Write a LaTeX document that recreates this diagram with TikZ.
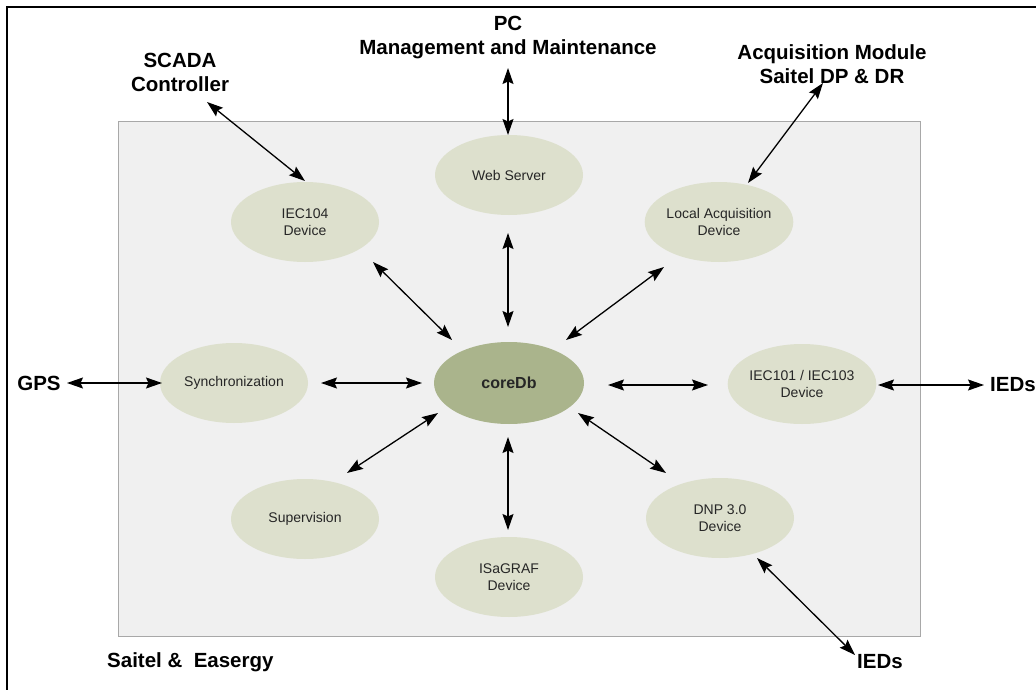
\documentclass[tikz,border=0pt]{standalone}
\usepackage{fontspec}
\setmainfont{Liberation Sans}
\usetikzlibrary{shapes.geometric,arrows.meta}

\definecolor{panelfill}{HTML}{F0F0F0}
\definecolor{panelline}{HTML}{A8A8A8}
\definecolor{modfill}{HTML}{DDE0CD}
\definecolor{corefill}{HTML}{AAB48C}

\tikzset{
  module/.style={ellipse, draw=none, fill=modfill, minimum width=148pt,
    minimum height=80pt, inner sep=0pt, align=center,
    font=\fontsize{14}{17}\selectfont, text=black!85},
  coremod/.style={module, fill=corefill, minimum width=150pt, minimum height=82pt,
    font=\fontsize{16}{19}\selectfont\bfseries},
  extlabel/.style={align=center, inner sep=0pt,
    font=\fontsize{20.5}{24}\selectfont\bfseries},
  tip/.tip={Stealth[length=16pt,width=11pt,inset=2.5pt]},
  link/.style={line width=1.3pt, tip-tip}
}

\begin{document}
\begin{tikzpicture}[x=1pt,y=-1pt]
  \useasboundingbox (0,0) rectangle (1036,690);
  % frame around the figure (open at right and bottom)
  \draw[line width=1.5pt] (7,690) -- (7,7) -- (1036,7);

  % device panel
  \draw[panelline, fill=panelfill, line width=0.8pt] (118,121) rectangle (920,636);

  % modules
  \node[module]  (web)     at (509,175) {Web Server};
  \node[module]  (iec104)  at (305,222) {IEC104\\Device};
  \node[module]  (local)   at (719,222) {Local Acquisition\\Device};
  \node[module]  (sync)    at (234,383) {Synchronization};
  \node[coremod] (core)    at (509,383) {coreDb};
  \node[module]  (iec101)  at (802,384) {IEC101 / IEC103\\Device};
  \node[module]  (sup)     at (305,519) {Supervision};
  \node[module]  (isagraf) at (509,577) {ISaGRAF\\Device};
  \node[module]  (dnp)     at (720,518) {DNP 3.0\\Device};

  % external parties
  \node[extlabel] (scada) at (180,72)  {SCADA\\Controller};
  \node[extlabel] (pc)    at (508,38)  {PC\\Management and Maintenance};
  \node[extlabel] (acq)   at (832,64)  {Acquisition Module\\Saitel DP \& DR};
  \node[extlabel] (gps)   at (39,383)  {GPS};
  \node[extlabel, anchor=west] (iedsR) at (990,385) {IEDs};
  \node[extlabel] (iedsB) at (880,662) {IEDs};
  \node[extlabel, anchor=west] (brand) at (107,662) {Saitel \&\ \ Easergy};

  % links
  \draw[link] ([shift={(27,30)}]scada.center)  -- ([shift={(0,-41)}]iec104.center);
  \draw[link] ([shift={(0,30)}]pc.center)      -- ([shift={(-1,-40)}]web.center);
  \draw[link] ([shift={(-9,19)}]acq.center)    -- ([shift={(29,-39)}]local.center);
  \draw[link] ([shift={(-1,58)}]web.center)    -- ([shift={(-1,-56)}]core.center);
  \draw[link] ([shift={(68,40)}]iec104.center) -- ([shift={(-57,-43)}]core.center);
  \draw[link] ([shift={(-55,45)}]local.center) -- ([shift={(57,-43)}]core.center);
  \draw[link] ([shift={(87,0)}]sync.center)    -- ([shift={(-87,0)}]core.center);
  \draw[link] ([shift={(99,2)}]core.center)    -- ([shift={(-94,1)}]iec101.center);
  \draw[link] ([shift={(28,0)}]gps.center)     -- ([shift={(-72,0)}]sync.center);
  \draw[link] ([shift={(76,1)}]iec101.center)  -- ([shift={(-6,0)}]iedsR.west);
  \draw[link] ([shift={(-71,30)}]core.center)  -- ([shift={(42,-46)}]sup.center);
  \draw[link] ([shift={(-1,54)}]core.center)   -- ([shift={(-1,-47)}]isagraf.center);
  \draw[link] ([shift={(69,30)}]core.center)   -- ([shift={(-54,-45)}]dnp.center);
  \draw[link] ([shift={(37,40)}]dnp.center)    -- ([shift={(-25,-7)}]iedsB.center);
\end{tikzpicture}
\end{document}
